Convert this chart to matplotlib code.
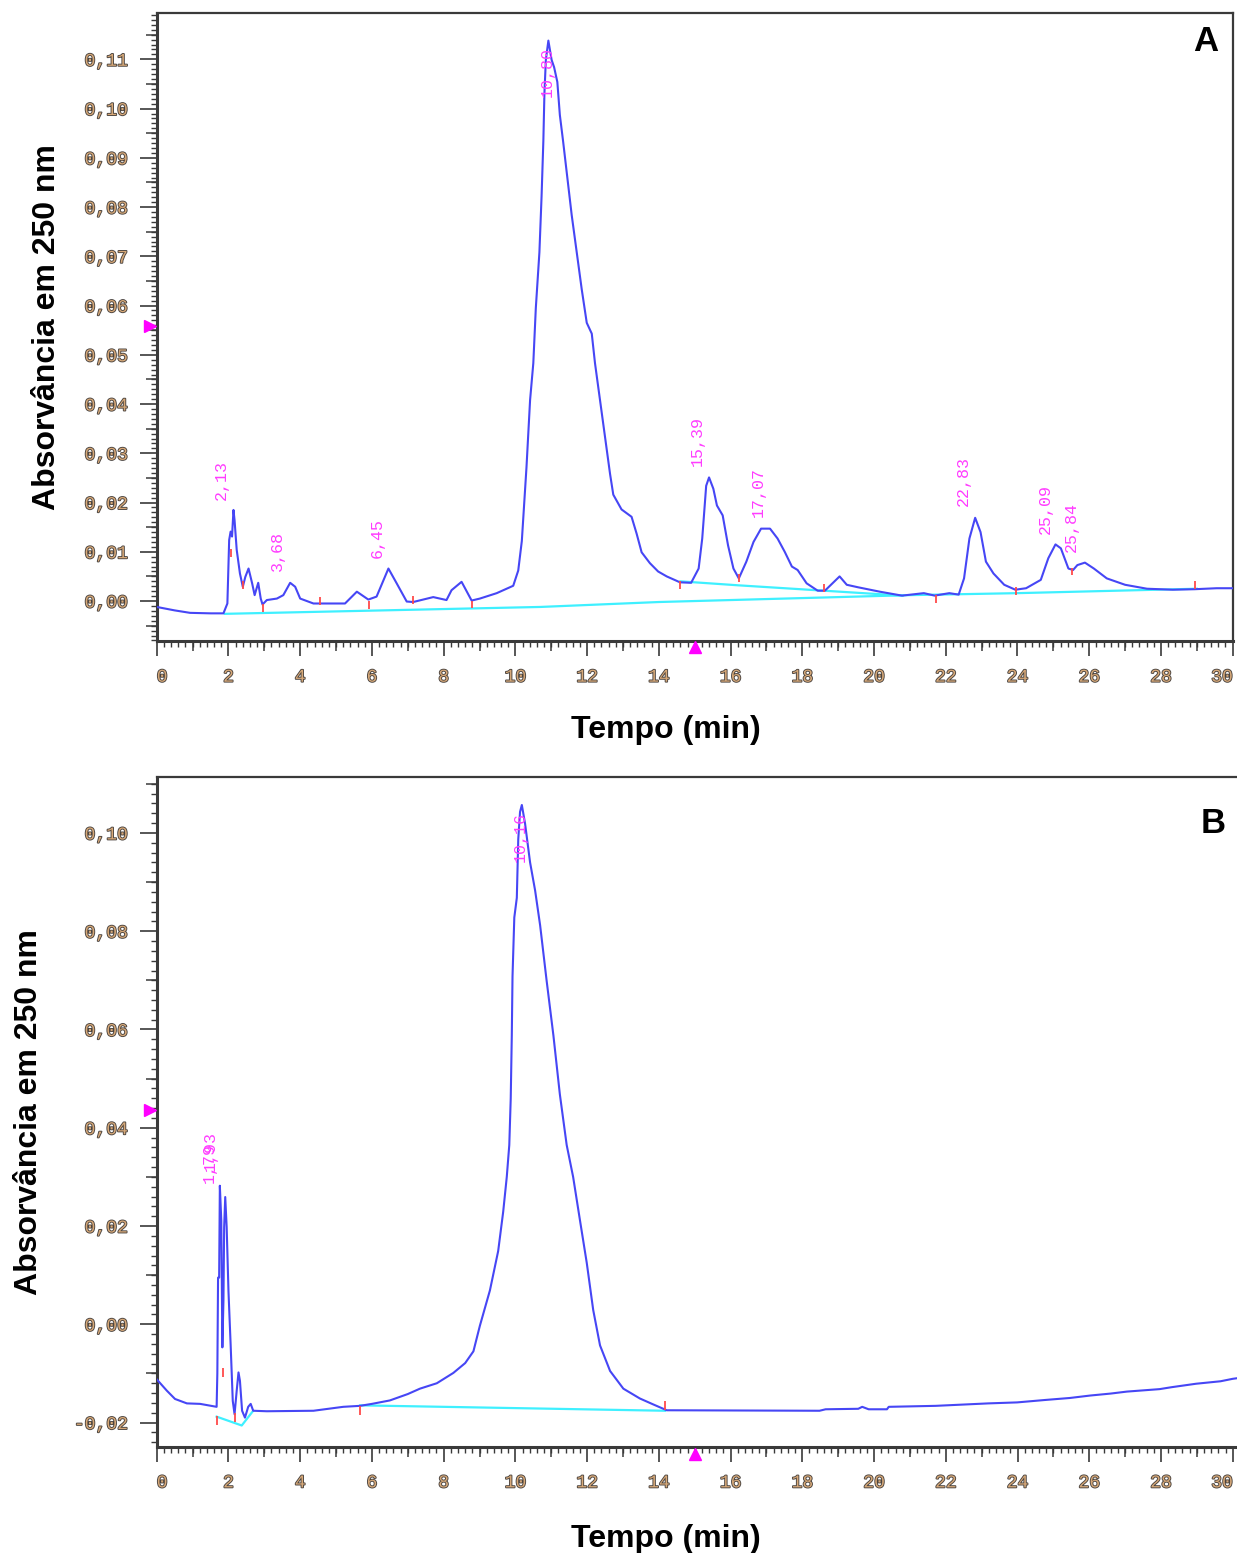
import matplotlib
matplotlib.use("Agg")
import matplotlib.pyplot as plt
import matplotlib.patheffects as pe
from matplotlib.ticker import MultipleLocator, FuncFormatter

# ---- panel A: chromatogram (time in min, absorbance at 250 nm) ----
a_time = [0, 0.5, 0.93, 1.5, 1.86, 1.97, 2.02, 2.06, 2.10, 2.14, 2.17, 2.23, 2.32, 2.40,
          2.47, 2.56, 2.66, 2.73, 2.83, 2.90, 2.95, 3.07, 3.35, 3.53, 3.72, 3.86, 4.0,
          4.37, 5.25, 5.58, 5.90, 6.13, 6.46, 6.69, 6.97, 7.15, 7.71, 8.08, 8.22, 8.50,
          8.78, 9.01, 9.48, 9.94, 10.08, 10.18, 10.31, 10.41, 10.50, 10.57, 10.67, 10.73,
          10.78, 10.81, 10.85, 10.92, 11.01, 11.08, 11.17, 11.24, 11.33, 11.45, 11.57,
          11.71, 11.85, 11.99, 12.13, 12.22, 12.36, 12.50, 12.64, 12.73, 12.96, 13.24,
          13.38, 13.52, 13.75, 13.98, 14.22, 14.59, 14.90, 15.11, 15.21, 15.32, 15.40,
          15.52, 15.62, 15.78, 15.93, 16.08, 16.23, 16.44, 16.64, 16.85, 17.10, 17.31,
          17.51, 17.71, 17.87, 18.12, 18.43, 18.63, 18.84, 19.04, 19.24, 19.55, 20.16,
          20.78, 21.39, 21.69, 22.10, 22.36, 22.51, 22.66, 22.82, 22.97, 23.12, 23.33,
          23.63, 23.94, 24.24, 24.65, 24.86, 25.06, 25.21, 25.42, 25.55, 25.67, 25.88,
          26.13, 26.49, 27.00, 27.61, 28.33, 28.94, 29.55, 30.0]
a_abs = [-0.0012, -0.0019, -0.0024, -0.0025, -0.0025, -0.0005, 0.0124, 0.0141, 0.0131,
         0.0185, 0.0164, 0.0104, 0.0056, 0.0029, 0.0049, 0.0066, 0.0036, 0.0012, 0.0037,
         0.0005, -0.0007, 0.0002, 0.0005, 0.0012, 0.0037, 0.0029, 0.0005, -0.0005,
         -0.0005, 0.0019, 0.0003, 0.0009, 0.0066, 0.0036, -0.0001, -0.0002, 0.0008,
         0.0002, 0.0022, 0.0039, 0.0001, 0.0005, 0.0016, 0.0031, 0.0062, 0.0122, 0.0272,
         0.0408, 0.0483, 0.0595, 0.0708, 0.0821, 0.0934, 0.1031, 0.1099, 0.1138, 0.1099,
         0.1084, 0.1054, 0.0987, 0.0934, 0.0859, 0.0784, 0.0709, 0.0633, 0.0565, 0.0543,
         0.0483, 0.0408, 0.0333, 0.0258, 0.0216, 0.0186, 0.0171, 0.0137, 0.0099, 0.0077,
         0.0060, 0.0050, 0.0038, 0.0037, 0.0066, 0.0127, 0.0234, 0.0251, 0.0228, 0.0194,
         0.0174, 0.0113, 0.0066, 0.0046, 0.0080, 0.0120, 0.0147, 0.0147, 0.0127, 0.0100,
         0.0070, 0.0063, 0.0036, 0.0021, 0.0021, 0.0036, 0.0050, 0.0033, 0.0028, 0.0019,
         0.0011, 0.0016, 0.0011, 0.0016, 0.0013, 0.0046, 0.0127, 0.0169, 0.0140, 0.0080,
         0.0056, 0.0033, 0.0023, 0.0026, 0.0043, 0.0087, 0.0115, 0.0107, 0.0066, 0.0063,
         0.0073, 0.0078, 0.0066, 0.0046, 0.0033, 0.0025, 0.0023, 0.0024, 0.0026, 0.0026]

a_base_t = [1.9, 10.7, 14.0, 21.0, 24.0, 29.0]
a_base_v = [-0.0026, -0.0012, -0.0002, 0.0012, 0.0016, 0.0025]
a_base2_t = [14.6, 16.2, 18.6, 20.8]
a_base2_v = [0.0040, 0.0032, 0.0021, 0.0011]

a_mark_t = [2.08, 2.40, 2.95, 4.55, 5.93, 7.15, 8.80, 14.60, 16.23, 18.61, 21.74, 23.96, 25.52, 28.94]
a_mark_v = [0.0097, 0.0032, -0.0015, 0.0000, -0.0008, 0.0002, -0.0007, 0.0033, 0.0046,
            0.0026, 0.0004, 0.0021, 0.0060, 0.0032]

a_peak_txt = ["2,13", "3,68", "6,45", "10,80", "15,39", "17,07", "22,83", "25,09", "25,84"]
a_peak_t = [1.81, 3.36, 6.15, 10.88, 15.06, 16.78, 22.49, 24.78, 25.49]
a_peak_v = [0.0206, 0.0060, 0.0087, 0.1023, 0.0274, 0.0170, 0.0193, 0.0137, 0.0099]

# ---- panel B ----
b_time = [0, 0.28, 0.51, 0.84, 1.21, 1.67, 1.69, 1.71, 1.74, 1.76, 1.80, 1.83, 1.86, 1.88,
          1.91, 1.95, 2.0, 2.06, 2.12, 2.17, 2.23, 2.28, 2.32, 2.38, 2.46, 2.55, 2.62,
          2.69, 3.07, 4.37, 5.2, 5.67, 6.0, 6.5, 7.0, 7.34, 7.81, 8.27, 8.60, 8.83, 9.01,
          9.29, 9.52, 9.66, 9.76, 9.83, 9.87, 9.90, 9.92, 9.97, 10.04, 10.08, 10.13,
          10.18, 10.27, 10.41, 10.55, 10.69, 10.87, 11.06, 11.24, 11.43, 11.61, 11.80,
          11.99, 12.17, 12.36, 12.64, 13.01, 13.47, 13.84, 14.22, 18.48, 18.65, 19.56,
          19.67, 19.85, 20.36, 20.41, 21.72, 23.19, 23.99, 24.78, 25.46, 26.03, 26.60,
          27.05, 27.96, 28.30, 28.98, 29.66, 30.0, 30.1]
b_abs = [-0.0112, -0.0135, -0.0152, -0.0161, -0.0162, -0.0168, -0.0100, 0.0095, 0.0095,
         0.0282, 0.0211, -0.0047, 0.0048, 0.0198, 0.0259, 0.0198, 0.0068, -0.0040,
         -0.0156, -0.0183, -0.0135, -0.0098, -0.0115, -0.0176, -0.0190, -0.0168,
         -0.0162, -0.0176, -0.0177, -0.0176, -0.0168, -0.0166, -0.0162, -0.0155,
         -0.0142, -0.0131, -0.0120, -0.0099, -0.0079, -0.0055, -0.0003, 0.0069, 0.0149,
         0.0229, 0.0300, 0.0365, 0.0459, 0.0588, 0.0708, 0.0828, 0.0868, 0.0987, 0.1043,
         0.1057, 0.1019, 0.0940, 0.0883, 0.0812, 0.0700, 0.0588, 0.0468, 0.0365, 0.0300,
         0.0212, 0.0125, 0.0029, -0.0043, -0.0095, -0.0131, -0.0151, -0.0163, -0.0175,
         -0.0176, -0.0173, -0.0172, -0.0168, -0.0173, -0.0173, -0.0168, -0.0166,
         -0.0161, -0.0159, -0.0154, -0.0150, -0.0145, -0.0141, -0.0137, -0.0132,
         -0.0128, -0.0121, -0.0116, -0.0111, -0.0110]

b_base_t = [1.67, 2.37, 2.69]
b_base_v = [-0.0188, -0.0206, -0.0176]
b_base2_t = [5.67, 14.17]
b_base2_v = [-0.0165, -0.0176]

b_mark_t = [1.67, 1.84, 2.18, 5.67, 14.17]
b_mark_v = [-0.0196, -0.0098, -0.0190, -0.0175, -0.0166]

b_peak_txt = ["1,79", "1,93", "10,16"]
b_peak_t = [1.47, 1.50, 10.13]
b_peak_v = [0.0287, 0.0312, 0.0941]

x_ticks = list(range(0, 31, 2))

BLUE = "#4646f5"
CYAN = "#3ff0ff"
RED = "#ff4a4a"
MAGENTA = "#ff3cff"
SPINE = "#3a3a3a"

tick_fx = [pe.withStroke(linewidth=1.3, foreground="#4a4440")]


def fmt(v, pos):
    return f"{v:.2f}".replace(".", ",").replace("-0,00", "0,00")


def style_axes(ax, xmax, ymin, ymax, ymajor, ymid, yminor, right_spine):
    ax.set_xlim(0, xmax)
    ax.set_ylim(ymin, ymax)
    ax.set_xticks(x_ticks)
    ax.xaxis.set_minor_locator(MultipleLocator(0.2))
    ax.yaxis.set_major_locator(MultipleLocator(ymajor))
    ax.yaxis.set_minor_locator(MultipleLocator(yminor))
    ax.yaxis.set_major_formatter(FuncFormatter(fmt))
    for s in ax.spines.values():
        s.set_color(SPINE)
        s.set_linewidth(1.6)
    ax.spines["left"].set_linewidth(2.2)
    ax.spines["bottom"].set_linewidth(2.2)
    ax.spines["right"].set_visible(right_spine)
    ax.tick_params(axis="x", which="major", length=11, width=1.2, color=SPINE, pad=9)
    ax.tick_params(axis="x", which="minor", length=4, width=1.0, color=SPINE)
    ax.tick_params(axis="y", which="major", length=12, width=1.2, color=SPINE, pad=9)
    ax.tick_params(axis="y", which="minor", length=4.5, width=1.0, color=SPINE)
    for lab in ax.get_xticklabels() + ax.get_yticklabels():
        lab.set_family("Liberation Mono")
        lab.set_fontsize(13)
        lab.set_color("#d6a878")
        lab.set_path_effects(tick_fx)
    labs = ax.get_xticklabels()
    labs[0].set_horizontalalignment("left")
    labs[-1].set_horizontalalignment("right")

    # intermediate ticks (odd minutes / half steps)
    sx = ax.secondary_xaxis("bottom")
    sx.set_xticks(range(1, 30, 2))
    sx.tick_params(length=7, width=1.1, color=SPINE, labelbottom=False)
    sx.spines["bottom"].set_visible(False)
    sy = ax.secondary_yaxis("left")
    n0 = int(round(ymin / ymid)) - 1
    n1 = int(round(ymax / ymid)) + 1
    sy.set_yticks([k * ymid for k in range(n0, n1) if k % 2 != 0])
    sy.tick_params(length=8, width=1.1, color=SPINE, labelleft=False)
    sy.spines["left"].set_visible(False)
    ax.set_ylim(ymin, ymax)

    ax.set_xlabel("Tempo (min)", fontsize=23, fontweight="bold", family="Liberation Sans")
    ax.set_ylabel("Absorvância em 250 nm", fontsize=23, fontweight="bold",
                  family="Liberation Sans")


def draw_panel(ax, t, v, bases, mk_t, mk_v, mk_h, labels, tri_left, tri_bottom):
    for bt, bv in bases:
        ax.plot(bt, bv, color=CYAN, lw=1.6, zorder=2)
    ax.plot(t, v, color=BLUE, lw=1.5, zorder=3)
    ax.vlines(mk_t, [m - mk_h for m in mk_v], [m + mk_h for m in mk_v], color=RED,
              lw=1.3, zorder=4)
    for txt, x, y in zip(*labels):
        ax.text(x, y, txt, rotation=90, ha="center", va="bottom", color=MAGENTA,
                fontsize=12, family="Liberation Mono", zorder=5)
    ax.plot(tri_left[0], tri_left[1], marker=">", color="#ff00ff", ms=8, clip_on=False,
            zorder=6)
    ax.plot(tri_bottom[0], tri_bottom[1], marker="^", color="#ff00ff", ms=8,
            clip_on=False, zorder=6)


fig = plt.figure(figsize=(12.37, 15.53), dpi=100)

ax_a = fig.add_axes([0.1267, 0.5873, 0.8698, 0.4043])
draw_panel(ax_a, a_time, a_abs, [(a_base_t, a_base_v), (a_base2_t, a_base2_v)],
           a_mark_t, a_mark_v, 0.0008, (a_peak_txt, a_peak_t, a_peak_v),
           (-0.2, 0.0558), (15.0, -0.0093))
style_axes(ax_a, 30, -0.0081, 0.1194, 0.01, 0.005, 0.001, True)
ax_a.yaxis.set_label_coords(-0.088, 0.5)
ax_a.xaxis.set_label_coords(0.473, -0.118)
ax_a.text(0.975, 0.955, "A", transform=ax_a.transAxes, fontsize=25, fontweight="bold",
          family="Liberation Sans", ha="center", va="center")

ax_b = fig.add_axes([0.1267, 0.0685, 0.8733, 0.4312])
draw_panel(ax_b, b_time, b_abs, [(b_base_t, b_base_v), (b_base2_t, b_base2_v)],
           b_mark_t, b_mark_v, 0.0009, (b_peak_txt, b_peak_t, b_peak_v),
           (-0.2, 0.0437), (15.0, -0.0265))
style_axes(ax_b, 30.12, -0.0249, 0.1114, 0.02, 0.01, 0.002, False)
ax_b.yaxis.set_label_coords(-0.104, 0.5)
ax_b.xaxis.set_label_coords(0.471, -0.115)
ax_b.text(0.978, 0.93, "B", transform=ax_b.transAxes, fontsize=25, fontweight="bold",
          family="Liberation Sans", ha="center", va="center")

fig.savefig("out.png", dpi=100, facecolor="white")
